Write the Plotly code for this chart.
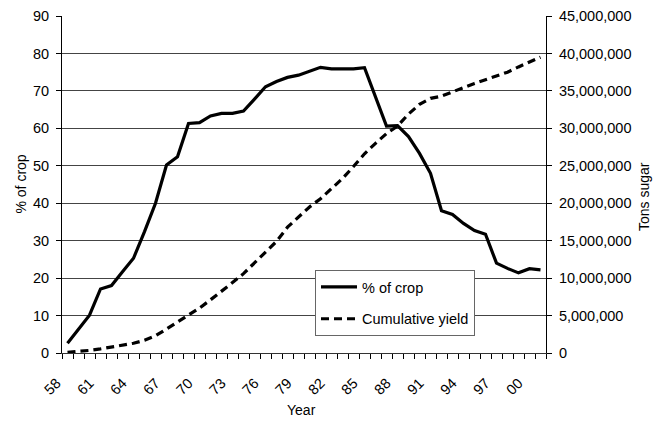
import plotly.graph_objects as go

years = list(range(1958, 2002))
pct_of_crop = [2.6, 6.4, 10.1, 17.1, 18.0, 21.7, 25.3, 32.4, 40.0, 50.2, 52.4, 61.3,
               61.5, 63.3, 64.0, 64.0, 64.6, 67.8, 71.1, 72.5, 73.6, 74.2, 75.3, 76.3,
               75.9, 75.9, 75.9, 76.2, 68.5, 60.6, 60.7, 57.8, 53.3, 48.0, 38.0, 37.0,
               34.6, 32.7, 31.7, 24.0, 22.6, 21.4, 22.5, 22.2]
cumulative_yield = [0.1e6, 0.2e6, 0.35e6, 0.55e6, 0.8e6, 1.05e6, 1.3e6, 1.7e6, 2.3e6, 3.2e6,
                    4.1e6, 5.0e6, 6.0e6, 7.1e6, 8.2e6, 9.4e6, 10.6e6, 12.0e6, 13.4e6, 14.9e6,
                    16.8e6, 18.2e6, 19.5e6, 20.6e6, 22.0e6, 23.3e6, 24.9e6, 26.6e6, 28.0e6, 29.3e6,
                    30.3e6, 31.9e6, 33.2e6, 34.0e6, 34.3e6, 34.9e6, 35.5e6, 36.0e6, 36.5e6, 37.0e6,
                    37.5e6, 38.2e6, 38.9e6, 39.5e6]
tick_years = list(range(1958, 2001, 3))
tick_labels = ["58", "61", "64", "67", "70", "73", "76", "79", "82", "85", "88", "91", "94", "97", "00"]
left_ticks = list(range(0, 91, 10))
right_ticks = list(range(0, 45000001, 5000000))

FONT = "Liberation Sans, Arial, sans-serif"
FS = 14.5

fig = go.Figure()
fig.add_trace(go.Scatter(x=years, y=pct_of_crop, name="% of crop", mode="lines",
                         legendgroup="a", line=dict(color="black", width=3.2)))
fig.add_trace(go.Scatter(x=years, y=cumulative_yield, name="Cumulative yield", mode="lines",
                         legendgroup="b", yaxis="y2",
                         line=dict(color="black", width=3.2, dash="8px,5px")))

fig.update_layout(
    width=655, height=423,
    margin=dict(l=62, r=109, t=16, b=70),
    paper_bgcolor="white", plot_bgcolor="white",
    font=dict(family=FONT, size=FS, color="black"),
    showlegend=True,
    legend=dict(x=(315 - 62) / 484, y=(353 - 270) / 337, xanchor="left", yanchor="top",
                bgcolor="white", bordercolor="#666", borderwidth=1,
                font=dict(size=FS), itemwidth=36, tracegroupgap=10),
    xaxis=dict(range=[1957.5, 2001.5], tickmode="array", tickvals=tick_years, ticktext=tick_labels,
               tickangle=-45, ticks="", showgrid=False, zeroline=False,
               ticklabelshift=-11, ticklabelstandoff=15,
               showline=True, linecolor="#333", linewidth=1, automargin=False,
               minor=dict(tickmode="array", tickvals=[y - 0.5 for y in years] + [years[-1] + 0.5],
                          ticks="outside", ticklen=5, tickcolor="black", showgrid=False)),
    yaxis=dict(range=[0, 90], tickvals=left_ticks, ticks="outside", ticklen=5, tickcolor="black",
               ticklabelstandoff=4,
               showgrid=True, gridcolor="#444", gridwidth=1, zeroline=False,
               showline=True, linecolor="black", linewidth=1, automargin=False),
    yaxis2=dict(range=[0, 45000000], tickvals=right_ticks, tickformat=",d", overlaying="y", side="right",
                ticks="outside", ticklen=5, tickcolor="black", showgrid=False, zeroline=False,
                ticklabelstandoff=4,
                showline=True, linecolor="black", linewidth=1, automargin=False),
    annotations=[
        dict(text="% of crop", xref="paper", yref="paper", x=(20 - 62) / 484, y=0.5,
             xanchor="center", yanchor="middle", textangle=-90, showarrow=False,
             font=dict(size=14)),
        dict(text="Tons sugar", xref="paper", yref="paper", x=(644 - 62) / 484, y=(353 - 197) / 337,
             xanchor="center", yanchor="middle", textangle=-90, showarrow=False,
             font=dict(size=14)),
        dict(text="Year", xref="paper", yref="paper", x=(301 - 62) / 484, y=(353 - 410) / 337,
             xanchor="center", yanchor="middle", showarrow=False, font=dict(size=14)),
    ],
)

fig.write_html("out.html", config={"displayModeBar": False},
               post_script="document.body.style.margin='0';document.body.style.overflow='hidden';")
